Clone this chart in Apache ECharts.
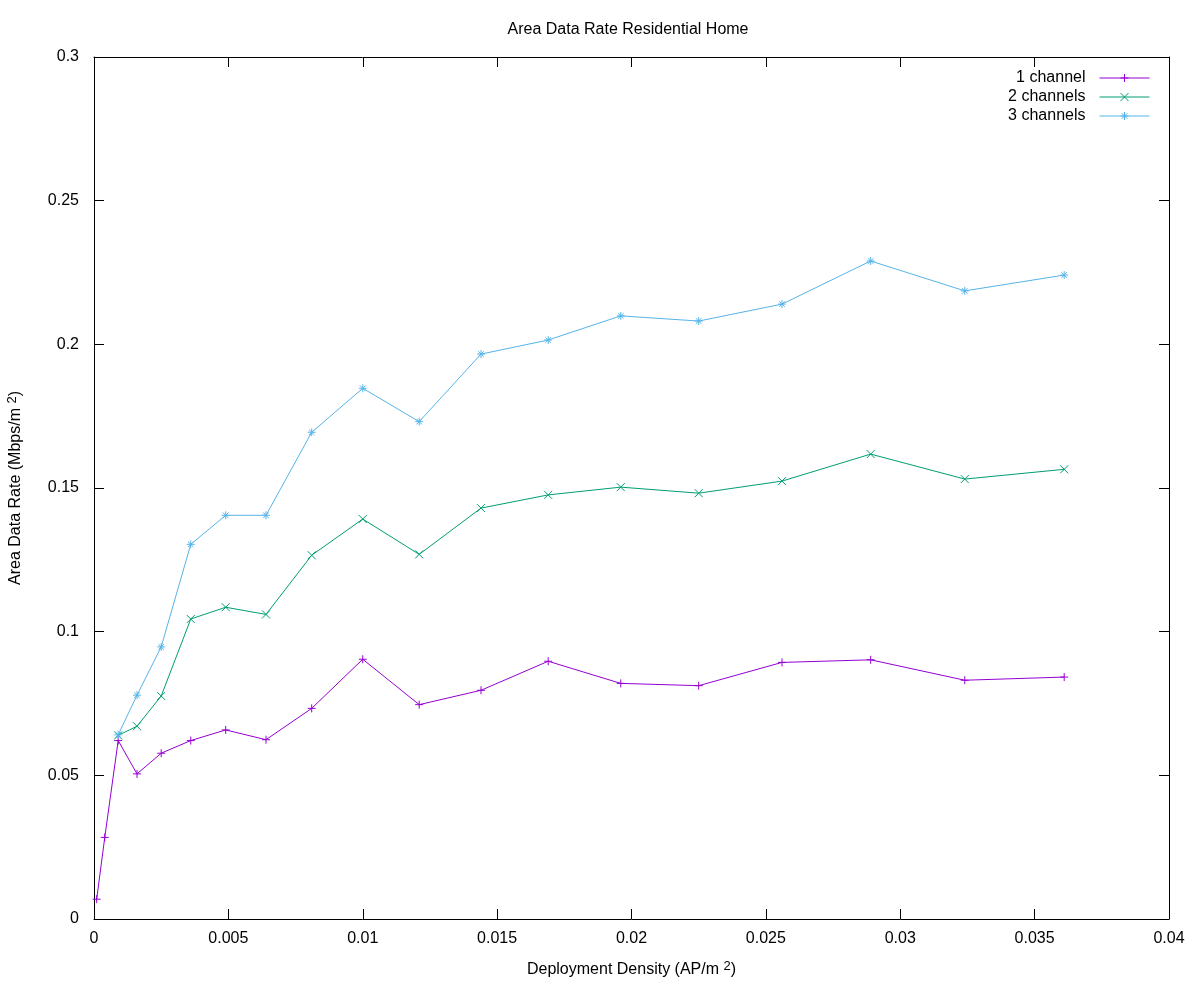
<!DOCTYPE html>
<html>
<head>
<meta charset="utf-8">
<script src="https://cdn.jsdelivr.net/npm/echarts@6/dist/echarts.min.js"></script>
<style>html,body{margin:0;padding:0;background:#fff}#c{width:1200px;height:1000px}</style>
</head>
<body>
<div id="c"></div>
<script>
const density = [0.0001, 0.0004, 0.0009, 0.0016, 0.0025, 0.0036, 0.0049, 0.0064, 0.0081, 0.01,
                 0.0121, 0.0144, 0.0169, 0.0196, 0.0225, 0.0256, 0.0289, 0.0324, 0.0361];
const oneChannel = [0.0069, 0.0284, 0.0621, 0.0505, 0.0577, 0.0621, 0.0658, 0.0624, 0.0733, 0.0904,
                    0.0746, 0.0796, 0.0897, 0.0820, 0.0812, 0.0893, 0.0902, 0.0831, 0.0842];
const twoChannels = [null, null, 0.0639, 0.0671, 0.0776, 0.1044, 0.1085, 0.1060, 0.1266, 0.1392,
                     0.1269, 0.1430, 0.1476, 0.1503, 0.1482, 0.1524, 0.1618, 0.1531, 0.1565];
const threeChannels = [null, null, 0.0641, 0.0779, 0.0947, 0.1304, 0.1405, 0.1405, 0.1694, 0.1847,
                       0.1731, 0.1966, 0.2015, 0.2099, 0.2081, 0.2140, 0.2290, 0.2186, 0.2241];
const seriesNames = ['1 channel', '2 channels', '3 channels'];

function pairs(ys) {
  const out = [];
  for (let i = 0; i < density.length; i++) if (ys[i] != null) out.push([density[i], ys[i]]);
  return out;
}

const FONT = 'Liberation Sans, Arial, sans-serif';
const colors = ['#9400D3', '#009E73', '#56B4E9'];
const symbols = [
  'path://M0,5L10,5M5,0L5,10',
  'path://M0,0L10,10M0,10L10,0',
  'path://M0,5L10,5M5,0L5,10M1.5,1.5L8.5,8.5M1.5,8.5L8.5,1.5'
];
const datasets = [oneChannel, twoChannels, threeChannels];

const baseX = {type: 'value', min: 0, max: 0.04, interval: 0.005};
const baseY = {type: 'value', min: 0, max: 0.3, interval: 0.05};
const axLine = {show: true, onZero: false, lineStyle: {color: '#000', width: 1}};
const axTick = {show: true, inside: true, length: 10, lineStyle: {color: '#000', width: 1}};

const option = {
  animation: false,
  backgroundColor: '#fff',
  textStyle: {fontFamily: FONT},
  title: {
    text: 'Area Data Rate Residential Home',
    left: 628, top: 22, textAlign: 'center', padding: 0,
    textStyle: {fontFamily: FONT, fontSize: 16, fontWeight: 'normal', color: '#000'}
  },
  legend: seriesNames.map((n, i) => ({
    data: [n], orient: 'vertical', right: 50, top: 70 + i * 19, padding: 0,
    align: 'right', itemWidth: 50, itemHeight: 10,
    lineStyle: {width: 1},
    itemStyle: {borderWidth: 1},
    textStyle: {fontFamily: FONT, fontSize: 16, color: '#000', padding: [0, 9, 0, 0]}
  })),
  grid: {left: 94, right: 31, top: 57, bottom: 81, containLabel: false, outerBoundsMode: 'none'},
  xAxis: [
    Object.assign({}, baseX, {
      position: 'bottom',
      axisLine: axLine, axisTick: axTick, splitLine: {show: false},
      axisLabel: {color: '#000', fontSize: 16, fontFamily: FONT, margin: 12},
      name: '{a|Deployment Density (AP/m }{s|2}{a|)}',
      nameLocation: 'middle', nameGap: 41,
      nameTextStyle: {
        rich: {
          a: {fontFamily: FONT, fontSize: 16, color: '#000', lineHeight: 20},
          s: {fontFamily: FONT, fontSize: 13, color: '#000', verticalAlign: 'top', lineHeight: 14}
        }
      }
    }),
    Object.assign({}, baseX, {
      position: 'top',
      axisLine: axLine, axisTick: axTick, splitLine: {show: false},
      axisLabel: {show: false}
    })
  ],
  yAxis: [
    Object.assign({}, baseY, {
      position: 'left',
      axisLine: axLine, axisTick: axTick, splitLine: {show: false},
      axisLabel: {color: '#000', fontSize: 16, fontFamily: FONT, margin: 15},
      name: '{a|Area Data Rate (Mbps/m }{s|2}{a|)}',
      nameLocation: 'middle', nameGap: 68, nameRotate: 90,
      nameTextStyle: {
        rich: {
          a: {fontFamily: FONT, fontSize: 16, color: '#000', lineHeight: 20},
          s: {fontFamily: FONT, fontSize: 13, color: '#000', verticalAlign: 'top', lineHeight: 14}
        }
      }
    }),
    Object.assign({}, baseY, {
      position: 'right',
      axisLine: axLine, axisTick: axTick, splitLine: {show: false},
      axisLabel: {show: false}
    })
  ],
  series: datasets.map((d, i) => ({
    name: seriesNames[i],
    type: 'line',
    xAxisIndex: 0, yAxisIndex: 0,
    data: pairs(d),
    symbol: symbols[i],
    symbolSize: 8,
    showAllSymbol: true,
    lineStyle: {color: colors[i], width: 1},
    itemStyle: {color: 'rgba(0,0,0,0)', borderColor: colors[i], borderWidth: 1},
    emphasis: {disabled: true}
  }))
};

const chart = echarts.init(document.getElementById('c'), null, {renderer: 'canvas'});
chart.setOption(option);
</script>
</body>
</html>
